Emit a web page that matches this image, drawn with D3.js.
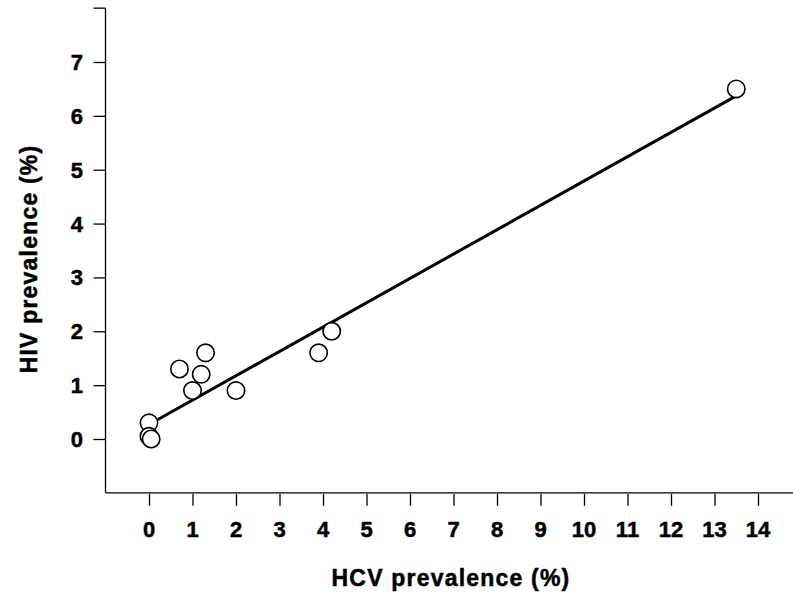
<!DOCTYPE html>
<html>
<head>
<meta charset="utf-8">
<script src="https://cdn.jsdelivr.net/npm/d3@7"></script>
<style>
  html, body { margin: 0; padding: 0; background: #fff; }
  svg text { font-family: "Liberation Sans", Arial, sans-serif; font-weight: bold; fill: #000; stroke: #000; stroke-width: 0.5px; }
</style>
</head>
<body>
<svg id="chart" width="793" height="594"></svg>
<script>
// Data (HCV prevalence %, HIV prevalence %)
const hcv = [13.5, 4.2, 3.9, 2.0, 1.3, 0.7, 1.2, 1.0, 0.0, 0.0, 0.05];
const hiv = [6.5, 2.0, 1.6, 0.9, 1.6, 1.3, 1.2, 0.9, 0.3, 0.05, 0.0];
// Fitted line (as drawn in the reference)
const fitX = [0, 13.5];
const fitIntercept = 0.27;
const fitSlope = 0.452;
const xTicks = [0,1,2,3,4,5,6,7,8,9,10,11,12,13,14];
const yTicks = [0,1,2,3,4,5,6,7];
const xLabel = "HCV prevalence (%)";
const yLabel = "HIV prevalence (%)";

const svg = d3.select("#chart");
const x = d3.scaleLinear().domain([0, 14]).range([149, 758]);
const y = d3.scaleLinear().domain([0, 7]).range([439, 62]);

// axis lines (L-shape)
svg.append("line").attr("x1", x(-1)).attr("x2", 800).attr("y1", y(-1)).attr("y2", y(-1))
  .attr("stroke", "#000").attr("stroke-width", 1.3);
svg.append("line").attr("x1", x(-1)).attr("x2", x(-1)).attr("y1", y(8)).attr("y2", y(-1))
  .attr("stroke", "#000").attr("stroke-width", 1.3);
// top tick at 8
svg.append("line").attr("x1", x(-1) - 12).attr("x2", x(-1)).attr("y1", y(8)).attr("y2", y(8))
  .attr("stroke", "#000").attr("stroke-width", 1.3);

// x axis ticks (marks through d3 axis, labels drawn separately)
const xAxis = d3.axisBottom(x).tickValues(xTicks).tickSize(12).tickFormat("");
const gx = svg.append("g").attr("transform", `translate(0,${y(-1) + 1})`).call(xAxis);
gx.select(".domain").remove();
gx.selectAll("line").attr("stroke-width", 1.3);
svg.append("g").selectAll("text").data(xTicks).join("text")
  .attr("x", d => x(d)).attr("y", 536.5).attr("text-anchor", "middle")
  .style("font-size", "22px").text(d => d3.format("d")(d));

// y axis ticks
const yAxis = d3.axisLeft(y).tickValues(yTicks).tickSize(12).tickFormat("");
const gy = svg.append("g").attr("transform", `translate(${x(-1)},0)`).call(yAxis);
gy.select(".domain").remove();
gy.selectAll("line").attr("stroke-width", 1.3);
svg.append("g").selectAll("text").data(yTicks).join("text")
  .attr("x", 83).attr("y", d => y(d) + 8).attr("text-anchor", "end")
  .style("font-size", "22px").text(d => d3.format("d")(d));

// fit line
svg.append("line")
  .attr("x1", x(fitX[0])).attr("y1", y(fitIntercept + fitSlope * fitX[0]))
  .attr("x2", x(fitX[1])).attr("y2", y(fitIntercept + fitSlope * fitX[1]))
  .attr("stroke", "#000").attr("stroke-width", 3);

// points
const pts = hcv.map((v, i) => ({ x: v, y: hiv[i] }));
svg.append("g").selectAll("circle").data(pts).join("circle")
  .attr("cx", d => x(d.x)).attr("cy", d => y(d.y)).attr("r", 8.7)
  .attr("fill", "#fff").attr("stroke", "#000").attr("stroke-width", 1.6);

// axis titles
svg.append("text").attr("x", 451).attr("y", 586).attr("text-anchor", "middle")
  .style("font-size", "23px").attr("letter-spacing", 1.2).text(xLabel);
svg.append("text").attr("transform", "translate(37,259) rotate(-90)").attr("text-anchor", "middle")
  .style("font-size", "23px").attr("letter-spacing", 1.2).text(yLabel);
</script>
</body>
</html>
